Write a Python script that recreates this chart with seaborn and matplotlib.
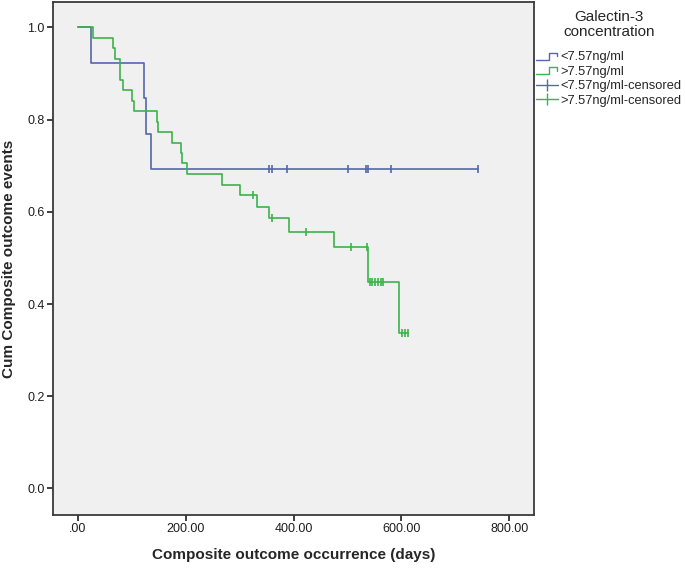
import numpy as np
import pandas as pd
import matplotlib
matplotlib.use("Agg")
import matplotlib.pyplot as plt
import seaborn as sns
from matplotlib.lines import Line2D
from matplotlib.legend_handler import HandlerBase

# Kaplan-Meier steps (days, cumulative survival)
low_days = [0, 25, 123, 126.5, 136]
low_surv = [1.0, 0.923, 0.846, 0.769, 0.692]
low_censored = [355, 359.5, 388, 501.5, 534, 537.5, 581, 742]

high_days = [0, 29, 66, 69, 78, 79, 83, 100, 104, 146, 148, 174, 192, 194, 202,
             267, 300, 333, 355, 392, 476, 538, 596]
high_surv = [1.0, 0.977, 0.955, 0.932, 0.909, 0.886, 0.864, 0.841, 0.818, 0.795,
             0.773, 0.750, 0.727, 0.705, 0.682, 0.659, 0.636, 0.611, 0.586, 0.557,
             0.524, 0.447, 0.337]
high_censored = [325, 359.5, 423, 507.5, 535.5, 542, 546, 551, 557, 561.5, 566.5,
                 600.5, 606.5, 611.5]

groups = ["<7.57ng/ml", ">7.57ng/ml"]
colors = ["#5566AA", "#3DB34A"]
x_ticks = [0, 200, 400, 600, 800]
x_tick_labels = [".00", "200.00", "400.00", "600.00", "800.00"]
y_ticks = [0.0, 0.2, 0.4, 0.6, 0.8, 1.0]
y_tick_labels = ["0.0", "0.2", "0.4", "0.6", "0.8", "1.0"]


def step_frame(days, surv, cens, name):
    # extend the last level out to the last censored case
    d = list(days) + [max(cens)]
    s = list(surv) + [surv[-1]]
    return pd.DataFrame({"days": d, "surv": s, "group": name})


def censor_frame(days, surv, cens, name):
    idx = np.searchsorted(days, cens, side="right") - 1
    return pd.DataFrame({"days": cens, "surv": np.array(surv)[idx], "group": name})


class StepHandler(HandlerBase):
    # small "_|‾|" glyph like the SPSS legend
    def create_artists(self, legend, orig_handle, xdescent, ydescent,
                       width, height, fontsize, trans):
        xs = np.array([0, 0.6, 0.6, 0.95, 0.95]) * width - xdescent
        ys = np.array([0.05, 0.05, 0.8, 0.8, 0.4]) * height - ydescent
        return [Line2D(xs, ys, color=orig_handle.get_color(), lw=1.0, transform=trans)]


curves = pd.concat([step_frame(low_days, low_surv, low_censored, groups[0]),
                    step_frame(high_days, high_surv, high_censored, groups[1])])
marks = pd.concat([censor_frame(low_days, low_surv, low_censored, groups[0]),
                   censor_frame(high_days, high_surv, high_censored, groups[1])])

sns.set_style("ticks", {"axes.facecolor": "#F0F0F0", "axes.edgecolor": "#3A3A3A"})
plt.rcParams["font.family"] = ["Liberation Sans", "DejaVu Sans"]

fig = plt.figure(figsize=(6.85, 5.69), dpi=100)
ax = fig.add_axes([53 / 685, 1 - 515 / 569, 481 / 685, 513 / 569])

palette = dict(zip(groups, colors))
sns.lineplot(data=curves, x="days", y="surv", hue="group", palette=palette,
             drawstyle="steps-post", estimator=None, sort=False, legend=False,
             lw=1.2, ax=ax)
sns.scatterplot(data=marks, x="days", y="surv", hue="group", palette=palette,
                marker="|", s=32, linewidth=1.2, legend=False, ax=ax)

ax.set_xlim(-46, 846)
ax.set_ylim(-0.0575, 1.055)
ax.set_xticks(x_ticks)
ax.set_xticklabels(x_tick_labels)
ax.set_yticks(y_ticks)
ax.set_yticklabels(y_tick_labels)
ax.tick_params(length=4, width=1.2, labelsize=9, pad=2, colors="#1E1E1E")
for sp in ax.spines.values():
    sp.set_linewidth(1.3)
    sp.set_visible(True)

ax.set_xlabel("Composite outcome occurrence (days)", fontsize=11, fontweight="bold", labelpad=9)
ax.set_ylabel("Cum Composite outcome events", fontsize=11, fontweight="bold", labelpad=8)

fig.text(609 / 685, 1 - 24.5 / 569, "Galectin-3\nconcentration", ha="center", va="center",
         fontsize=11, linespacing=1.05)

h_low = Line2D([], [], color=colors[0])
h_high = Line2D([], [], color=colors[1])
h_low_c = Line2D([], [], color=colors[0], lw=1.0, marker="|", markersize=8, markeredgewidth=1.0)
h_high_c = Line2D([], [], color=colors[1], lw=1.0, marker="|", markersize=8, markeredgewidth=1.0)
fig.legend([h_low, h_high, h_low_c, h_high_c],
           [groups[0], groups[1], groups[0] + "-censored", groups[1] + "-censored"],
           handler_map={h_low: StepHandler(), h_high: StepHandler()},
           loc="upper left", bbox_to_anchor=(536 / 685, 1 - 51 / 569),
           frameon=False, fontsize=9.3, handlelength=1.7, handletextpad=0.2,
           labelspacing=0.2, borderpad=0, borderaxespad=0)

fig.savefig("out.png", dpi=100)
